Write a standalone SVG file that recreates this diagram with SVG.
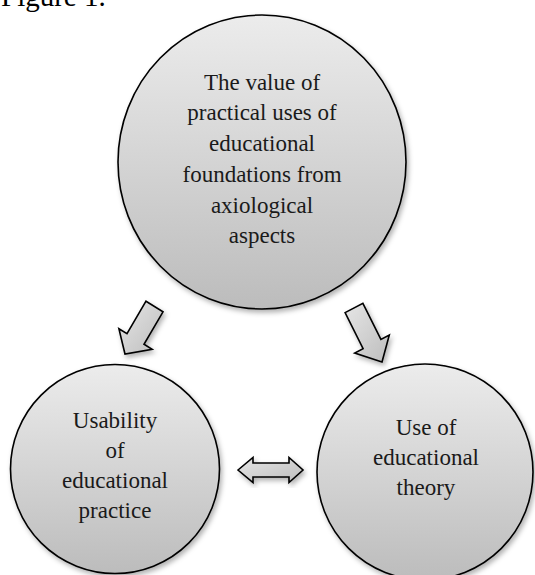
<svg xmlns="http://www.w3.org/2000/svg" width="535" height="575" viewBox="0 0 535 575">
  <defs>
    <linearGradient id="ballFill" x1="0" y1="0" x2="0" y2="1">
      <stop offset="0" stop-color="#ececec"/>
      <stop offset="1" stop-color="#bcbcbc"/>
    </linearGradient>
    <linearGradient id="arrowFill" x1="0" y1="0" x2="1" y2="1">
      <stop offset="0" stop-color="#e6e6e6"/>
      <stop offset="1" stop-color="#bdbdbd"/>
    </linearGradient>
    <filter id="softShadow" x="-20%" y="-20%" width="140%" height="140%">
      <feDropShadow dx="2" dy="3" stdDeviation="2.5" flood-color="#000" flood-opacity="0.3"/>
    </filter>
  </defs>
  <style>
    .ball { fill: url(#ballFill); stroke: #000; stroke-width: 1.6; filter: url(#softShadow); }
    .arrow { fill: url(#arrowFill); stroke: #000; stroke-width: 1.6; stroke-linejoin: miter; filter: url(#softShadow); }
    .label { font-size: 23px; fill: #1a1a1a; text-anchor: middle; }
    .caption { font-size: 29px; fill: #000; }
  </style>

  <rect width="535" height="575" fill="#fff"/>

  <g font-family="'Liberation Serif', 'Times New Roman', serif">
    <text class="caption" x="1" y="6">Figure 1.</text>

    <g id="node-value">
      <ellipse class="ball" cx="262" cy="162" rx="144" ry="147"/>
      <text class="label" x="262" y="90">The value of</text>
      <text class="label" x="262" y="120">practical uses of</text>
      <text class="label" x="262" y="151">educational</text>
      <text class="label" x="262" y="182">foundations from</text>
      <text class="label" x="262" y="213">axiological</text>
      <text class="label" x="262" y="243">aspects</text>
    </g>

    <g id="node-practice">
      <circle class="ball" cx="115" cy="469" r="104.5"/>
      <text class="label" x="115" y="428">Usability</text>
      <text class="label" x="115" y="458">of</text>
      <text class="label" x="115" y="488">educational</text>
      <text class="label" x="115" y="518">practice</text>
    </g>

    <g id="node-theory">
      <circle class="ball" cx="425" cy="472" r="108"/>
      <text class="label" x="426" y="435">Use of</text>
      <text class="label" x="426" y="465">educational</text>
      <text class="label" x="426" y="495">theory</text>
    </g>
  </g>

  <g id="connectors">
    <polygon class="arrow" points="146,301.2 163,311.8 144,344.3 152.1,349.3 125,354 118.9,328.7 127,333.7"/>
    <polygon class="arrow" points="345.1,312.6 362.9,303.4 380.9,339.4 389.3,335 382,362 354.7,353 363.1,348.6"/>
    <polygon class="arrow" points="238,470 253,457.5 253,463 289,463 289,457.5 303,470 289,482.5 289,477 253,477 253,482.5"/>
  </g>
</svg>
